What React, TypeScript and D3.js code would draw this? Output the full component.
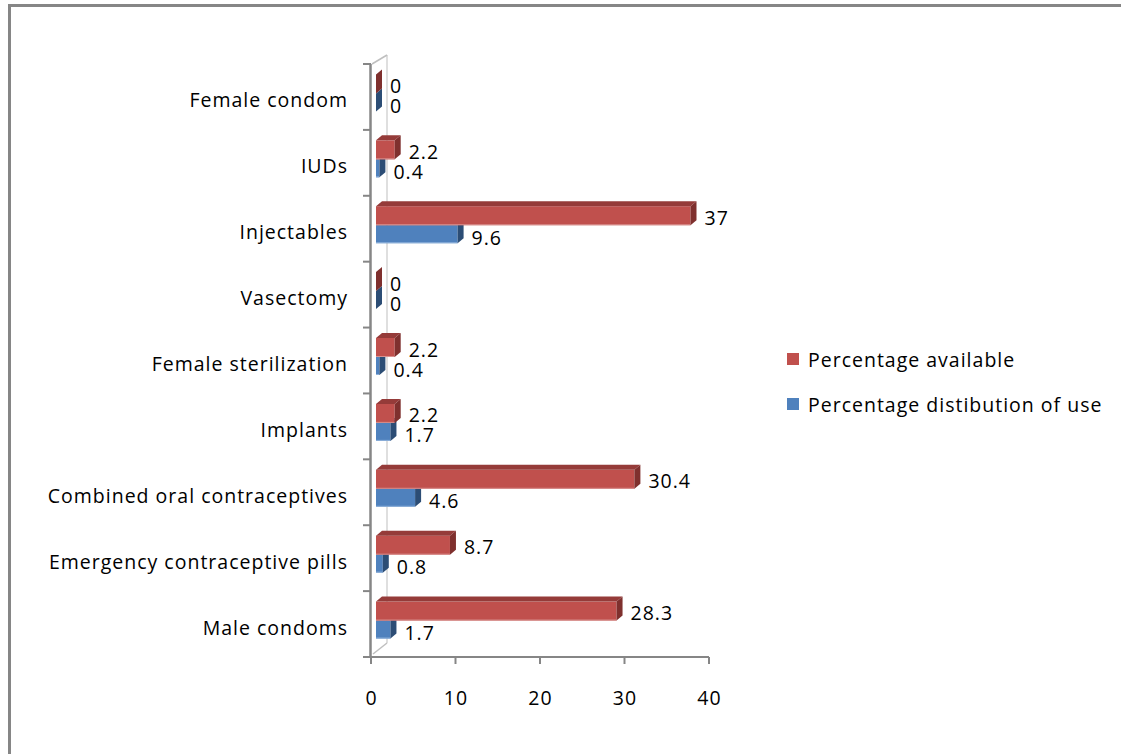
import React from "react";
import * as d3 from "d3";

const categories = [
  "Male condoms",
  "Emergency contraceptive pills",
  "Combined oral contraceptives",
  "Implants",
  "Female sterilization",
  "Vasectomy",
  "Injectables",
  "IUDs",
  "Female condom",
];
const available = [28.3, 8.7, 30.4, 2.2, 2.2, 0, 37, 2.2, 0];
const useDist = [1.7, 0.8, 4.6, 1.7, 0.4, 0, 9.6, 0.4, 0];
const xTicks = [0, 10, 20, 30, 40];
const seriesNames = ["Percentage available", "Percentage distibution of use"];

const FONT = "'Open Sans', Lato, sans-serif";
const FS = 19.5;
const LS = 1;
const RED = { front: "#C0504D", top: "#953B39", side: "#7F302E", edge: "#D9918F" };
const BLUE = { front: "#4F81BD", top: "#3A6596", side: "#2C4D75", edge: "#8FB1DA" };

export default function App() {
  const W = 1121, H = 754;
  const axisX = d3.scaleLinear().domain([0, 40]).range([371, 709]);
  const barX = d3.scaleLinear().domain([0, 40]).range([376, 716]);
  const band = d3
    .scaleBand<string>()
    .domain([...categories].reverse())
    .range([64, 657])
    .paddingInner(0)
    .paddingOuter(0);
  const step = band.step();
  const dx = 6, dy = -5;

  const bar = (v: number, yTop: number, h: number, c: typeof RED, key: string) => {
    const x0 = barX(0), x1 = barX(v);
    const top = `${x0},${yTop} ${x0 + dx},${yTop + dy} ${x1 + dx},${yTop + dy} ${x1},${yTop}`;
    const side = `${x1},${yTop} ${x1 + dx},${yTop + dy} ${x1 + dx},${yTop + h + dy} ${x1},${yTop + h}`;
    return (
      <g key={key}>
        {v > 0 && <rect x={x0} y={yTop} width={x1 - x0} height={h} fill={c.front} />}
        {v > 0 && <line x1={x0} x2={x1} y1={yTop + h - 0.5} y2={yTop + h - 0.5} stroke={c.edge} strokeWidth={1} />}
        <polygon points={top} fill={c.top} />
        <polygon points={side} fill={c.side} />
      </g>
    );
  };

  const txt = { fontFamily: FONT, fontSize: FS, letterSpacing: LS, fill: "#000" } as const;

  return (
    <svg width={W} height={H} style={{ position: "absolute", left: 0, top: 0, background: "#fff" }}>
      {/* frame */}
      <line x1={9.5} y1={5.5} x2={W} y2={5.5} stroke="#868686" strokeWidth={3} />
      <line x1={9.5} y1={4} x2={9.5} y2={H} stroke="#868686" strokeWidth={3} />

      {/* back wall */}
      <line x1={387} y1={55} x2={387} y2={643} stroke="#BFBFBF" strokeWidth={1} />
      <line x1={372} y1={64} x2={387} y2={55} stroke="#BFBFBF" strokeWidth={1.5} />
      <line x1={373} y1={654} x2={387} y2={643} stroke="#BFBFBF" strokeWidth={1.5} />

      {/* bars */}
      {categories.map((cat, i) => {
        const c = (band(cat) as number) + step / 2;
        return (
          <g key={cat}>
            {bar(useDist[i], c - 3.5, 18, BLUE, "b")}
            {bar(available[i], c - 22.5, 19, RED, "r")}
            <text x={barX(available[i]) + dx + 8} y={c - 11.5} dominantBaseline="central" {...txt}>
              {available[i]}
            </text>
            <text x={barX(useDist[i]) + dx + 8} y={c + 8.5} dominantBaseline="central" {...txt}>
              {useDist[i]}
            </text>
            <text x={348} y={c + 3} textAnchor="end" dominantBaseline="central" {...txt}>
              {cat}
            </text>
          </g>
        );
      })}

      {/* category axis */}
      <line x1={370.5} y1={64} x2={370.5} y2={658} stroke="#868686" strokeWidth={2.5} />
      {d3.range(categories.length + 1).map((k) => {
        const y = 64 + k * step;
        return <line key={k} x1={363} x2={371} y1={y} y2={y} stroke="#868686" strokeWidth={2} />;
      })}

      {/* value axis */}
      <line x1={370} y1={657} x2={709} y2={657} stroke="#868686" strokeWidth={2} />
      {xTicks.map((t) => (
        <g key={t}>
          <line x1={axisX(t)} x2={axisX(t)} y1={657} y2={664} stroke="#868686" strokeWidth={2} />
          <text x={axisX(t) + 0.5} y={697} textAnchor="middle" dominantBaseline="central" {...txt}>
            {t}
          </text>
        </g>
      ))}

      {/* legend */}
      {seriesNames.map((s, i) => (
        <g key={s} transform={`translate(787, ${353 + i * 45})`}>
          <rect x={0} y={0} width={12} height={12} fill={i === 0 ? RED.front : BLUE.front} />
          <text x={21} y={6} dominantBaseline="central" {...txt}>
            {s}
          </text>
        </g>
      ))}
    </svg>
  );
}
